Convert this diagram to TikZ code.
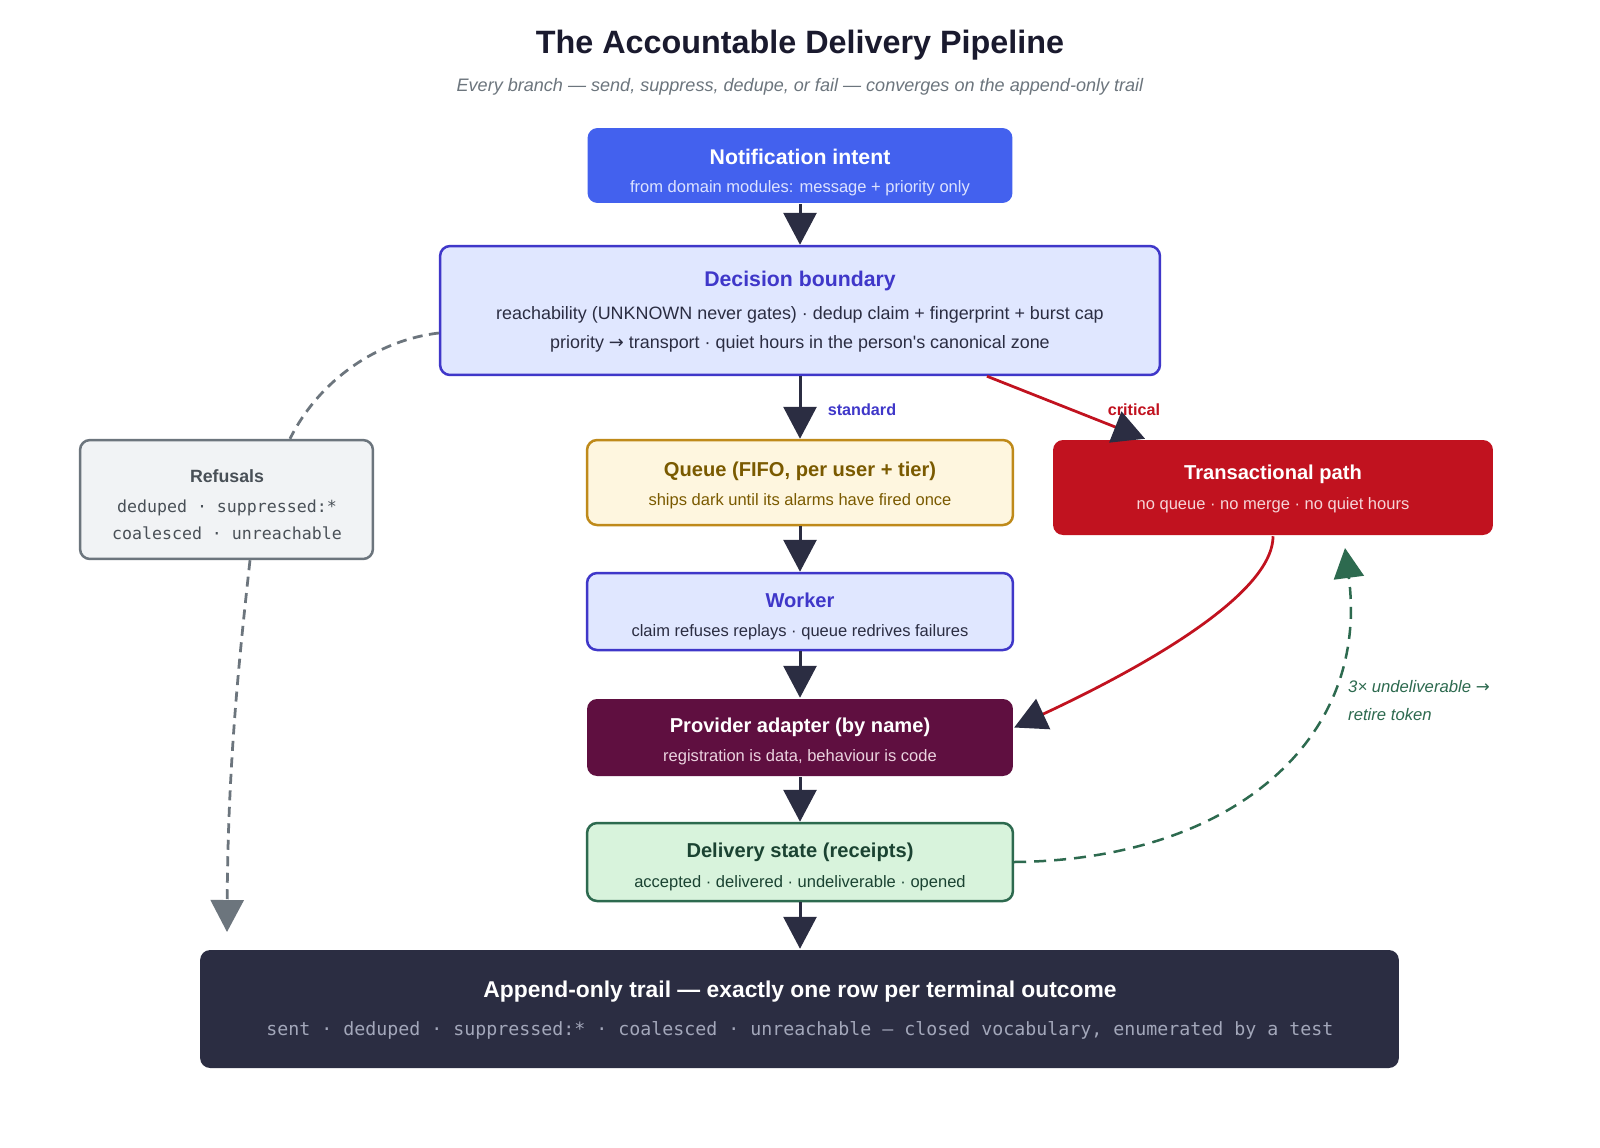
\documentclass[tikz,border=0pt]{standalone}
\usepackage{fontspec}
\setmainfont{Liberation Sans}
\setsansfont{Liberation Sans}
\setmonofont{DejaVu Sans Mono}
\newfontfamily\arrowfont{DejaVu Sans}
\usetikzlibrary{arrows.meta,positioning}

\definecolor{ink}{HTML}{2B2D42}
\definecolor{headink}{HTML}{1A1A2E}
\definecolor{mute}{HTML}{6C757D}
\definecolor{intentblue}{HTML}{4361EE}
\definecolor{intentsub}{HTML}{DDE3FF}
\definecolor{decfill}{HTML}{E0E7FF}
\definecolor{decblue}{HTML}{3F37C9}
\definecolor{queuefill}{HTML}{FEF6DF}
\definecolor{queueedge}{HTML}{BF8A1A}
\definecolor{queueink}{HTML}{7A5A00}
\definecolor{critred}{HTML}{C1121F}
\definecolor{critsub}{HTML}{F6D5D8}
\definecolor{reffill}{HTML}{F1F3F5}
\definecolor{refink}{HTML}{495057}
\definecolor{provfill}{HTML}{5F0F40}
\definecolor{provsub}{HTML}{EBD3DF}
\definecolor{delfill}{HTML}{D8F3DC}
\definecolor{deledge}{HTML}{2D6A4F}
\definecolor{delink}{HTML}{1B4332}
\definecolor{trailsub}{HTML}{A3A7BA}

\newcommand{\toarrow}{{\arrowfont →}}

\begin{document}
\begin{tikzpicture}[x=0.02cm,y=-0.02cm,
  box/.style={rounded corners=0.2cm,line width=0.05cm,inner sep=0pt},
  ttl/.style={font=\fontsize{11.45}{14}\selectfont\bfseries},
  bigttl/.style={font=\fontsize{12.1}{14.5}\selectfont\bfseries},
  sub/.style={font=\fontsize{9.4}{11}\selectfont},
  mono/.style={font=\ttfamily\fontsize{9.45}{15.4}\selectfont,align=center},
  flow/.style={ink,line width=0.06cm,-{Triangle[length=0.64cm,width=0.66cm]}},
  crit/.style={critred,line width=0.055cm,-{Triangle[length=0.64cm,width=0.66cm,color=ink]}},
  refuse/.style={mute,line width=0.055cm,dash pattern=on 0.2cm off 0.13cm},
  retire/.style={deledge,line width=0.05cm,dash pattern=on 0.24cm off 0.16cm,-{Triangle[length=0.6cm,width=0.6cm]}},
  lbl/.style={font=\fontsize{9.2}{11}\selectfont\bfseries}]
\useasboundingbox[fill=white] (0,0) rectangle (1600,1147);

% heading
\node[font=\fontsize{18.4}{22}\selectfont\bfseries,text=headink] (title) at (800,45) {The Accountable Delivery Pipeline};
\node[font=\fontsize{10.28}{12}\selectfont\itshape,text=mute] (subtitle) at (800,87) {Every branch --- send, suppress, dedupe, or fail --- converges on the append-only trail};

% boxes
\node[box,fill=intentblue,minimum width=8.5cm,minimum height=1.5cm] (intent) at (800,165.5) {};
\node[box,draw=decblue,fill=decfill,minimum width=14.4cm,minimum height=2.58cm] (decision) at (800,310.5) {};
\node[box,draw=queueedge,fill=queuefill,minimum width=8.52cm,minimum height=1.7cm] (queue) at (800,482.5) {};
\node[box,fill=critred,minimum width=8.8cm,minimum height=1.9cm] (trans) at (1273,487.5) {};
\node[box,draw=mute,fill=reffill,minimum width=5.86cm,minimum height=2.38cm] (refusals) at (226.5,499.5) {};
\node[box,draw=decblue,fill=decfill,minimum width=8.52cm,minimum height=1.54cm] (worker) at (800,611.5) {};
\node[box,fill=provfill,minimum width=8.52cm,minimum height=1.54cm] (provider) at (800,737.5) {};
\node[box,draw=deledge,fill=delfill,minimum width=8.52cm,minimum height=1.56cm] (delivery) at (800,862) {};
\node[box,fill=ink,minimum width=23.98cm,minimum height=2.36cm] (trail) at (799.5,1009) {};

% box texts
\node[bigttl,text=white] (intentttl) at (800,157) {Notification intent};
\node[sub,text=intentsub] (intentsub) at (800,188) {from domain modules: message + priority only};
\node[bigttl,text=decblue] (decttl) at (800,281) {Decision boundary};
\node[text=ink,align=center,font=\fontsize{10.2}{16.5}\selectfont] (decsub) at (800,329.5) {reachability (UNKNOWN never gates) · dedup claim + fingerprint + burst cap\\priority \toarrow{} transport · quiet hours in the person\textquotesingle s canonical zone};
\node[ttl,text=queueink] (queuettl) at (800,471) {Queue (FIFO, per user + tier)};
\node[sub,text=queueink] (queuesub) at (800,501) {ships dark until its alarms have fired once};
\node[ttl,text=white] (transttl) at (1273,474) {Transactional path};
\node[sub,text=critsub] (transsub) at (1273,505) {no queue · no merge · no quiet hours};
\node[font=\fontsize{10.1}{12}\selectfont\bfseries,text=refink] (refttl) at (227,476) {Refusals};
\node[mono,text=refink] (refsub) at (227,519.5) {deduped · suppressed:*\\coalesced · unreachable};
\node[ttl,text=decblue] (workerttl) at (800,600) {Worker};
\node[sub,text=ink] (workersub) at (800,632) {claim refuses replays · queue redrives failures};
\node[ttl,text=white] (provttl) at (800,727) {Provider adapter (by name)};
\node[sub,text=provsub] (provsub) at (800,757) {registration is data, behaviour is code};
\node[ttl,text=delink] (delttl) at (800,852) {Delivery state (receipts)};
\node[sub,text=delink] (delsub) at (800,883) {accepted · delivered · undeliverable · opened};
\node[font=\fontsize{13}{15}\selectfont\bfseries,text=white] (trailttl) at (800,992) {Append-only trail --- exactly one row per terminal outcome};
\node[font=\ttfamily\fontsize{10.4}{12}\selectfont,text=trailsub] (trailsub) at (800,1030) {sent · deduped · suppressed:* · coalesced · unreachable — closed vocabulary, enumerated by a test};

% main flow
\draw[flow] (intent) -- (decision);
\draw[flow] (decision) -- (queue);
\draw[flow] (queue) -- (worker);
\draw[flow] (worker) -- (provider);
\draw[flow] (provider) -- (delivery);
\draw[flow] (delivery.south) -- (delivery.south |- trail.north);
\node[lbl,text=decblue] (stdlbl) at (862,410) {standard};

% critical branch
\draw[crit] ([xshift=3.74cm]decision.south) -- ([xshift=-2.56cm]trans.north);
\node[lbl,text=critred] (critlbl) at (1134,410) {critical};
\draw[crit] (trans.south) .. controls +(0,64) and +(101,-47) .. ([yshift=0.2cm]provider.east);

% refusals
\coordinate (refend) at (227,932);
\draw[refuse] ([yshift=-0.45cm]decision.west) .. controls +(-60,7) and +(30,-60) .. ([xshift=1.27cm]refusals.north);
\draw[refuse,-{Triangle[length=0.64cm,width=0.66cm]}] ([xshift=0.47cm]refusals.south) .. controls +(-10,91) and +(1,-172) .. (refend);

% token retirement
\coordinate (retireend) at (1345,548);
\draw[retire] (delivery.east) .. controls +(217,-2) and +(25,192) .. (retireend);
\node[font=\fontsize{9.5}{15.4}\selectfont\itshape,text=deledge,align=left,anchor=west] (retirelbl) at (1342,700.5) {3× undeliverable \toarrow\\retire token};
\end{tikzpicture}
\end{document}
